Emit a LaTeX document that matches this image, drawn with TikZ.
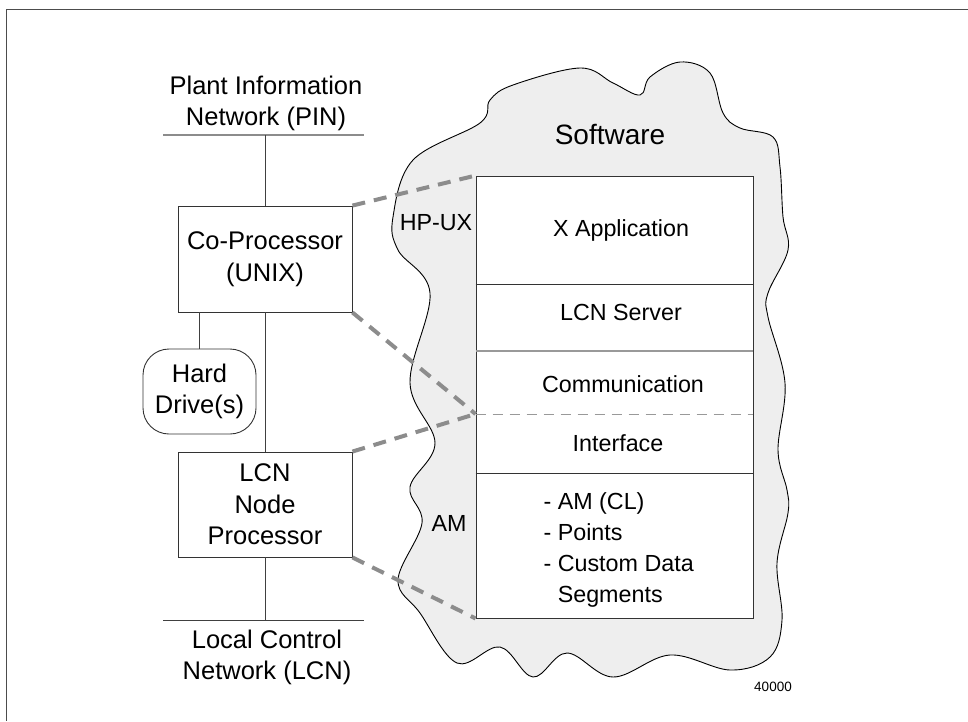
\documentclass[tikz,border=0pt]{standalone}
\usepackage{fontspec}
\setmainfont{Liberation Sans}
\usetikzlibrary{positioning,calc}
\definecolor{cloudgray}{HTML}{EEEEEE}
\definecolor{linkgray}{HTML}{8C8C8C}

\begin{document}
\begin{tikzpicture}[x=1pt,y=-1pt,
unit/.style={rectangle, draw=black!80, line width=0.9pt, minimum width=174pt, minimum height=106pt, align=center, font=\fontsize{25.5}{31.5}\selectfont},
disk/.style={rectangle, rounded corners=26pt, draw=black!80, line width=0.9pt, minimum width=113pt, minimum height=85pt, align=center, font=\fontsize{25.5}{31.5}\selectfont},
netlabel/.style={align=center, font=\fontsize{25.5}{31}\selectfont},
layer/.style={font=\fontsize{23.3}{31}\selectfont},
link/.style={draw=linkgray, line width=4pt, dash pattern=on 13pt off 9pt},
bus/.style={draw=black!75, line width=0.8pt},
]
\useasboundingbox (0,0) rectangle (968,721);
\draw[black!70, line width=0.9pt] (968,9) -- (6,9) -- (6,721);

% software cloud
\filldraw[fill=cloudgray, draw=black, line width=0.9pt] plot[smooth cycle, tension=0.6] coordinates {
(393,217) (413,160) (480,123) (490,100) (513,85) (580,68) (613,83) (640,95)
(650,77) (680,62) (710,73) (723,113) (740,128) (773,137) (780,167) (783,217)
(788,250) (768,293) (768,317) (785,383) (778,450) (787,490) (788,513) (777,563)
(782,620) (770,657) (730,670) (670,655) (613,677) (567,653) (533,677) (500,647)
(457,663) (420,613) (398,580) (422,523) (410,487) (435,443) (410,383) (430,293)
(398,250)};

\node[unit] (coproc) at (265,259) {Co-Processor\\(UNIX)};
\node[unit, minimum height=105pt] (lcnp) at (265,504.5) {LCN\\Node\\Processor};
\node[disk] (disk) at (199.5,391.5) {Hard\\Drive(s)};

\coordinate (pinW) at (163,135);
\coordinate (pinE) at (364,135);
\coordinate (lcnW) at (163,620);
\coordinate (lcnE) at (364,620);
\node[netlabel] (pin) at (266,103) {Plant Information\\Network (PIN)};
\node[netlabel] (lcn) at (267,657) {Local Control\\Network (LCN)};
\draw[black!45, line width=1.3pt] (pinW) -- (pinE);
\draw[bus] (lcnW) -- (lcnE);
\draw[bus] (coproc.north) -- (coproc.north |- pinW);
\draw[bus] (coproc.south) -- (lcnp.north);
\draw[bus] (lcnp.south) -- (lcnp.south |- lcnW);
\draw[bus] (disk.north) -- (disk.north |- coproc.south);

% layer stack
\node[draw=black!80, line width=0.9pt, fill=white, minimum width=277pt, minimum height=442pt, inner sep=0pt] (stack) at (614.5,397) {};
\coordinate (cut1) at (0,284);
\coordinate (cut2) at (0,351);
\coordinate (cut3) at (0,414);
\coordinate (cut4) at (0,473);
\draw[black!80, line width=0.8pt] (stack.west |- cut1) -- (stack.east |- cut1);
\draw[black!40, line width=1.4pt] (stack.west |- cut2) -- (stack.east |- cut2);
\draw[black!40, line width=0.8pt, dash pattern=on 10pt off 7pt] (stack.west |- cut3) -- (stack.east |- cut3);
\draw[black!80, line width=0.8pt] (stack.west |- cut4) -- (stack.east |- cut4);

\node[font=\fontsize{28}{32}\selectfont] (sw) at (610,134) {Software};
\node[layer] (hpux) at (436,222.5) {HP-UX};
\node[layer] (am) at (449,523.5) {AM};
\node[layer] (xapp) at (621,230) {X Application};
\node[layer] (server) at (621,312) {LCN Server};
\node[layer] (comm) at (623,384) {Communication};
\node[layer] (iface) at (618,443) {Interface};
\node[layer, align=left, anchor=west] (amlist) at (540,550) {- AM (CL)\\- Points\\- Custom Data\\\phantom{- }Segments};
\node[font=\fontsize{13.5}{16}\selectfont] (fig) at (773,687) {40000};

\draw[link] (coproc.north east) -- (stack.north west);
\draw[link] (coproc.south east) -- (stack.west |- cut3);
\draw[link] (lcnp.north east) -- (stack.west |- cut3);
\draw[link] (lcnp.south east) -- (stack.south west);
\end{tikzpicture}
\end{document}
